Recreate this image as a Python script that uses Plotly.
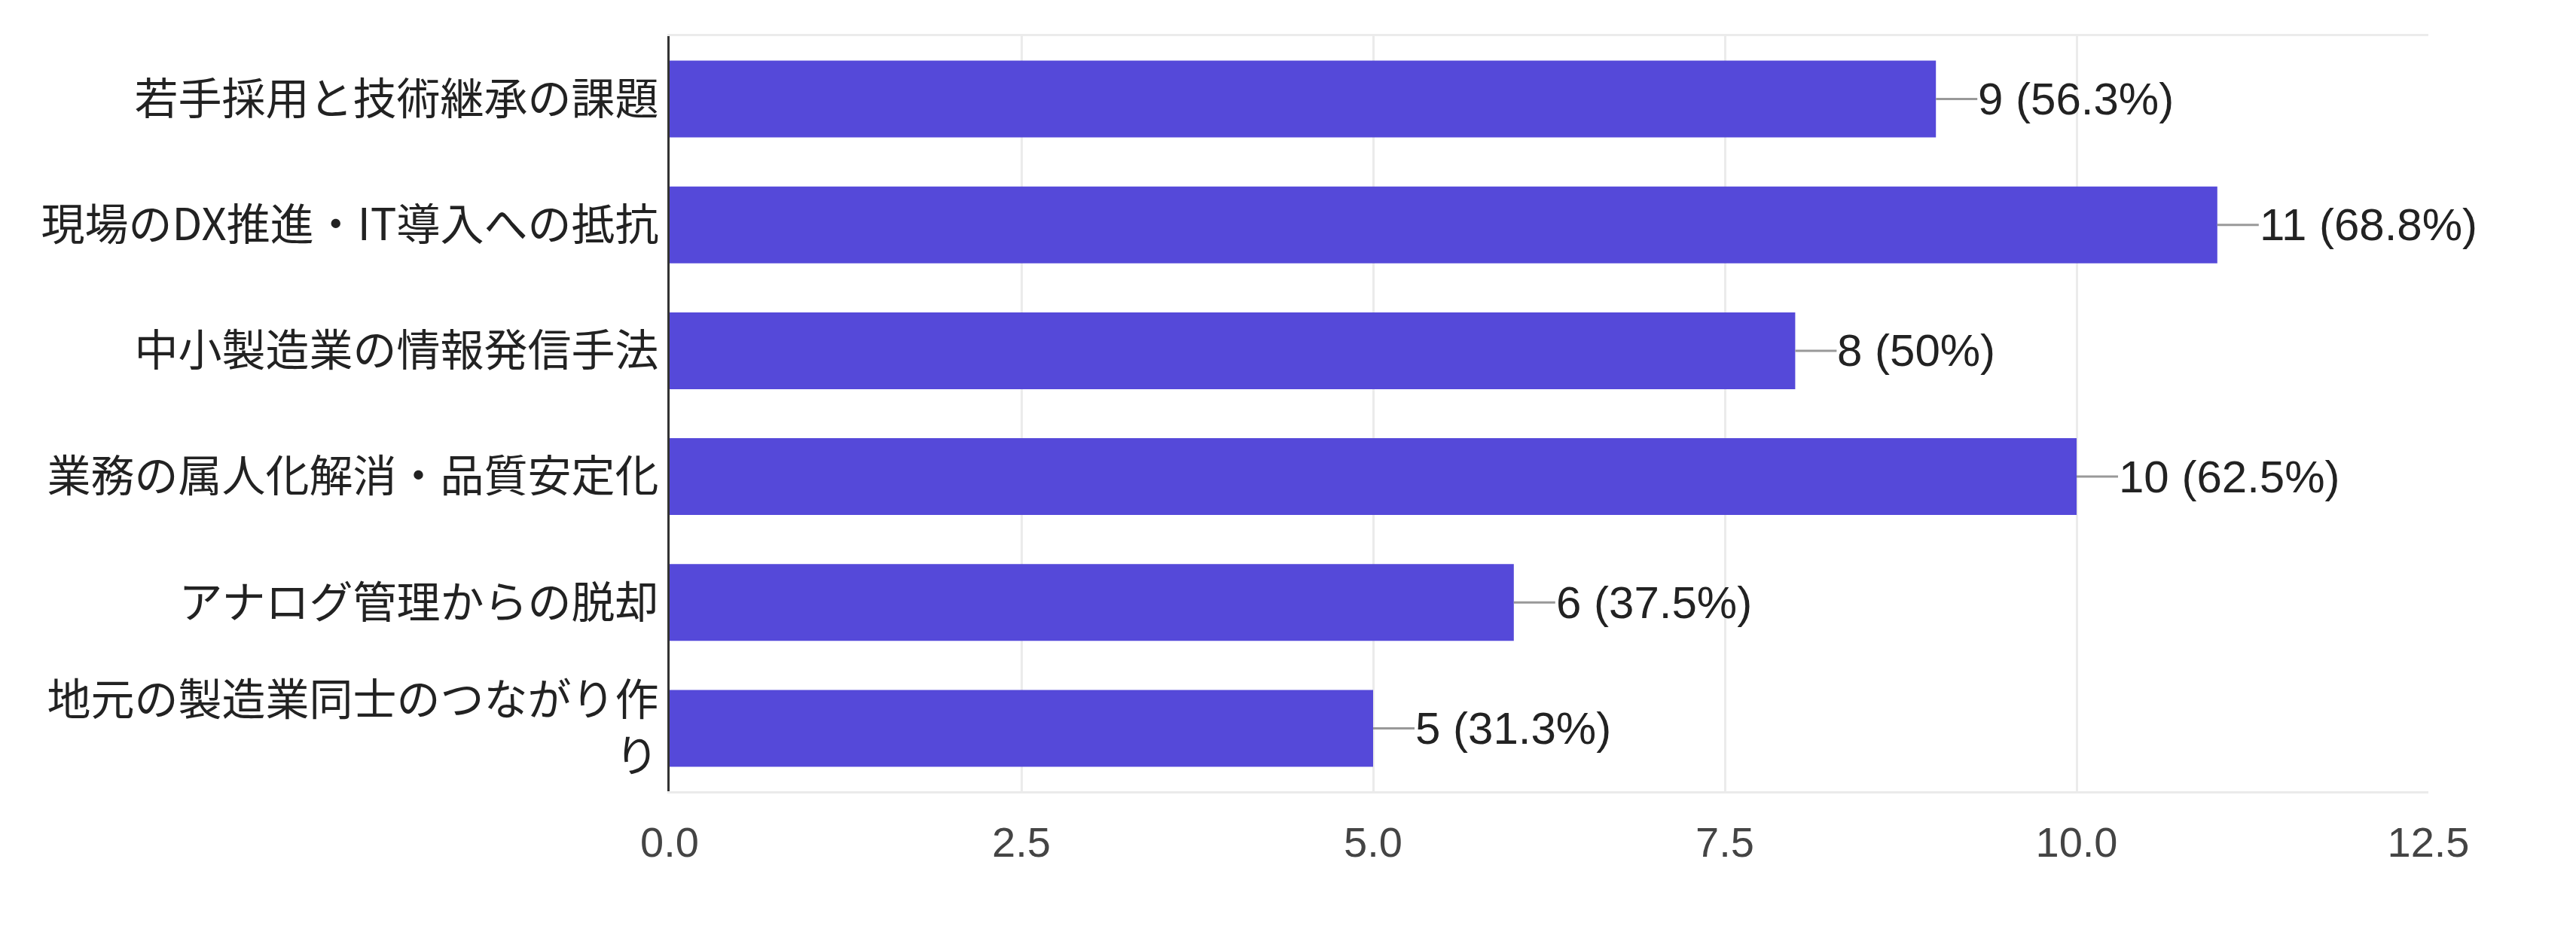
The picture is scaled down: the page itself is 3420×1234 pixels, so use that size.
import plotly.graph_objects as go

categories = [
    "若手採用と技術継承の課題",
    "現場のDX推進・IT導入への抵抗",
    "中小製造業の情報発信手法",
    "業務の属人化解消・品質安定化",
    "アナログ管理からの脱却",
    "地元の製造業同士のつながり作<br>り",
]
counts = [9, 11, 8, 10, 6, 5]
percents = ["56.3%", "68.8%", "50%", "62.5%", "37.5%", "31.3%"]
x_ticks = [0, 2.5, 5, 7.5, 10, 12.5]

BAR_COLOR = "#5549d9"

fig = go.Figure()
fig.add_trace(go.Bar(
    x=counts,
    y=categories,
    orientation="h",
    marker=dict(color=BAR_COLOR, line=dict(width=0)),
    hoverinfo="skip",
))

for c, p, cat in zip(counts, percents, categories):
    fig.add_annotation(
        x=c, y=cat, xref="x", yref="y",
        text=f"{c} ({p})",
        showarrow=True, arrowhead=0, arrowwidth=3, arrowcolor="#999999",
        ax=55, ay=0, xanchor="left", yanchor="middle",
        standoff=0, startstandoff=0, borderpad=0,
        font=dict(family="Liberation Sans, Arial, sans-serif", size=60, color="#222222"),
    )

fig.update_layout(
    width=3420, height=1234,
    margin=dict(l=889, r=196, t=48, b=183),
    paper_bgcolor="white", plot_bgcolor="white",
    bargap=0.39,
    showlegend=False,
    xaxis=dict(
        range=[0, 12.5],
        tickvals=x_ticks,
        tickformat=".1f",
        showgrid=True, gridcolor="#ebebeb", gridwidth=3,
        zeroline=False,
        showline=True, linecolor="#ebebeb", linewidth=3, mirror=True,
        ticks="", ticklabelstandoff=17,
        tickfont=dict(family="Liberation Sans, Arial, sans-serif", size=56, color="#444444"),
    ),
    yaxis=dict(
        autorange="reversed",
        showgrid=False, zeroline=False,
        showline=True, linecolor="#333333", linewidth=3,
        ticks="", ticklabelstandoff=0,
        tickfont=dict(family="Noto Sans CJK JP, sans-serif", size=58, color="#222222"),
    ),
)

fig.write_html("out.html")
